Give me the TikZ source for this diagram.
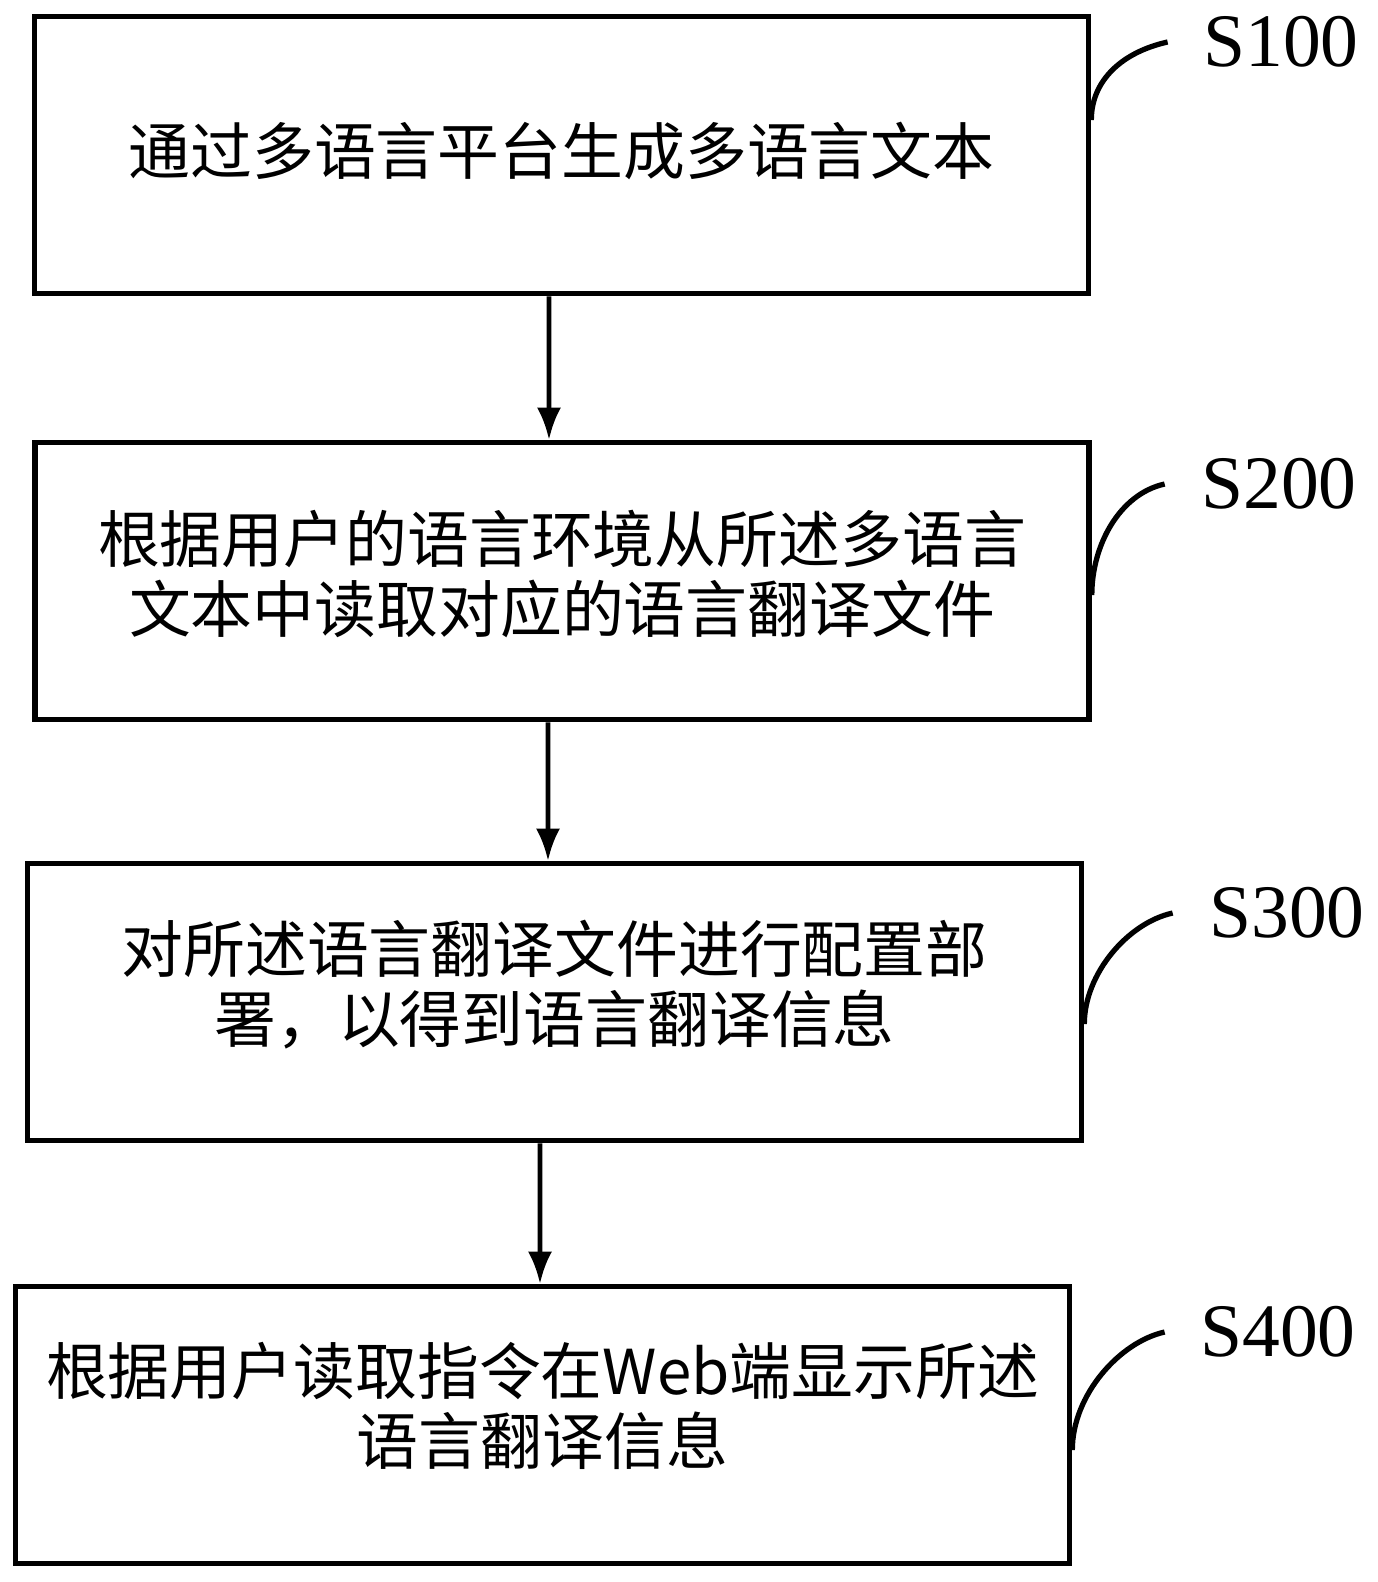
\documentclass[tikz,border=0pt]{standalone}
\usepackage{fontspec}
\setmainfont{Liberation Serif}
\newfontfamily\cjk{Noto Sans CJK SC}
\usetikzlibrary{arrows.meta,positioning}

\tikzset{
  stepbox/.style={draw, rectangle, line width=1.6pt, minimum width=10.54cm,
    minimum height=2.77cm, align=center, inner sep=0pt,
    font=\cjk\fontsize{17.6}{19.9}\selectfont},
  flow/.style={-{Latex[length=3.2mm,width=2.4mm]}, line width=1.3pt},
  tag/.style={inner sep=0pt, font=\fontsize{21.5}{24}\selectfont},
  lead/.style={line width=1.5pt}
}

\begin{document}
\begin{tikzpicture}
        \useasboundingbox (0,0) rectangle (13.78,-15.82);
        % steps
        \node[stepbox, text depth=0.13cm] (s100) at (5.615,-1.55) {通过多语言平台生成多语言文本};
        \node[stepbox, text depth=0.2cm] (s200) at (5.62,-5.81) {根据用户的语言环境从所述多语言\\文本中读取对应的语言翻译文件};
        \node[stepbox, text depth=0.42cm] (s300) at (5.545,-10.02) {对所述语言翻译文件进行配置部\\署，以得到语言翻译信息};
        \node[stepbox, text depth=0.44cm] (s400) at (5.425,-14.25) {根据用户读取指令在Web端显示所述\\语言翻译信息};
        % step numbers
        \node[tag] (t100) at (12.81,-0.42) {S100};
        \node[tag] (t200) at (12.79,-4.84) {S200};
        \node[tag] (t300) at (12.87,-9.13) {S300};
        \node[tag] (t400) at (12.78,-13.32) {S400};
        % arrows
        \draw[flow] ([xshift=-0.125cm]s100.south) -- ([xshift=-0.13cm]s200.north);
        \draw[flow] ([xshift=-0.14cm]s200.south) -- ([xshift=-0.065cm]s300.north);
        \draw[flow] ([xshift=-0.145cm]s300.south) -- ([xshift=-0.025cm]s400.north);
        % leaders
        \draw[lead] ([yshift=0.35cm]s100.east) .. controls +(0,0.4) and +(-0.45,-0.1) .. ([xshift=-0.35cm]t100.west);
        \draw[lead] ([yshift=-0.14cm]s200.east) .. controls +(0,0.5) and +(-0.45,-0.1) .. ([xshift=-0.36cm]t200.west);
        \draw[lead] ([yshift=-0.22cm]s300.east) .. controls +(0,0.5) and +(-0.45,-0.1) .. ([xshift=-0.36cm]t300.west);
        \draw[lead] ([yshift=-0.25cm]s400.east) .. controls +(0,0.55) and +(-0.45,-0.1) .. ([xshift=-0.35cm]t400.west);
    \end{tikzpicture}
\end{document}
